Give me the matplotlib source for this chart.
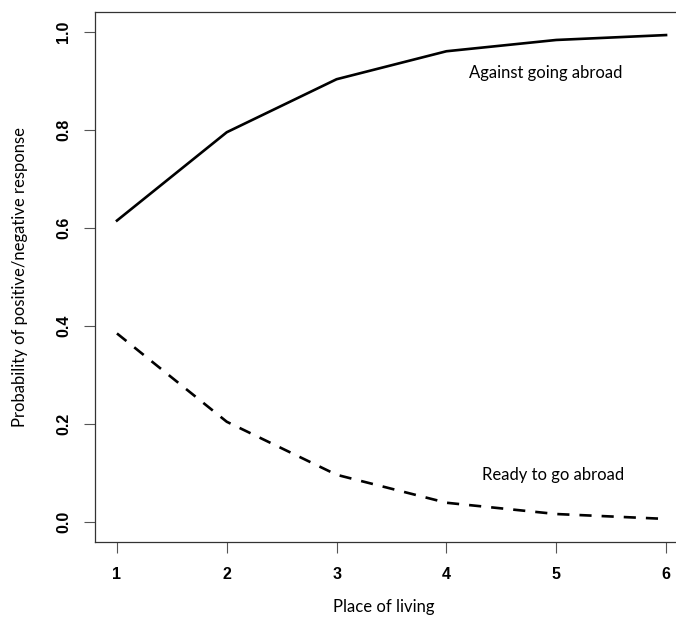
import numpy as np
import matplotlib
matplotlib.use("Agg")
import matplotlib.pyplot as plt

# place of living categories and the predicted probabilities
place = [1, 2, 3, 4, 5, 6]
ready = [0.385, 0.205, 0.097, 0.040, 0.017, 0.007]
against = [0.615, 0.795, 0.903, 0.960, 0.983, 0.993]
yticks = [0.0, 0.2, 0.4, 0.6, 0.8, 1.0]

label_font = "Lato"
tick_font = "Liberation Sans"

fig = plt.figure(figsize=(6.76, 6.19), dpi=100)
ax = fig.add_axes([95 / 676, 77 / 619, 593 / 676, 530 / 619])

ax.plot(place, against, color="black", lw=1.9, solid_joinstyle="round")
ax.plot(place, ready, color="black", lw=1.9, dashes=(4.6, 3.8), dash_capstyle="butt")

ax.set_xlim(0.8, 6.2)
ax.set_ylim(-0.04, 1.04)
ax.set_xticks(place)
ax.set_yticks(yticks)
ax.set_xticklabels([str(p) for p in place], fontfamily=tick_font, fontweight="bold", fontsize=11.5)
ax.set_yticklabels(["%.1f" % v for v in yticks], fontfamily=tick_font, fontweight="bold",
                   fontsize=11.5, rotation=90, va="center")
ax.tick_params(axis="both", direction="out", length=8, width=0.8, color="#555555", pad=10)
ax.tick_params(axis="y", pad=9)

# the box runs off the right edge of the picture, so no right border shows
for s in ax.spines.values():
    s.set_linewidth(0.9)
    s.set_color("#333333")
ax.spines["right"].set_visible(False)

ax.text(4.9, 0.915, "Against going abroad", fontfamily=label_font, fontsize=12,
        ha="center", va="center")
ax.text(4.97, 0.097, "Ready to go abroad", fontfamily=label_font, fontsize=12,
        ha="center", va="center")

fig.text(384 / 676, 1 - 607 / 619, "Place of living", fontfamily=label_font, fontsize=12,
         ha="center", va="center")
fig.text(20 / 676, 1 - 277 / 619, "Probability of positive/negative response",
         fontfamily=label_font, fontsize=12, rotation=90, ha="center", va="center")

fig.savefig("out.png", dpi=100)
